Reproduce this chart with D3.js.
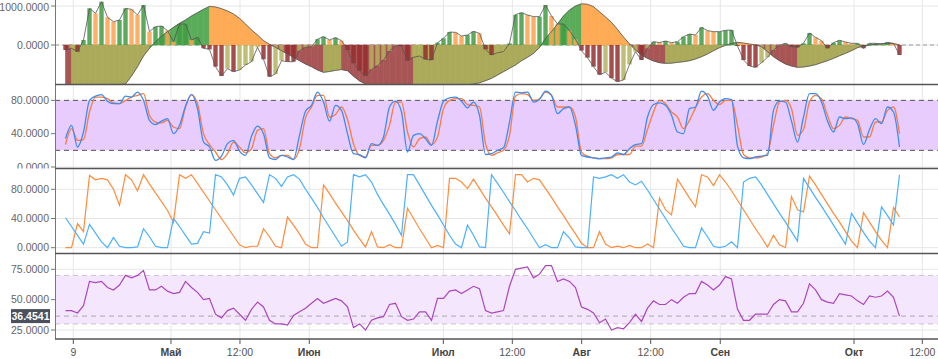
<!DOCTYPE html>
<html><head><meta charset="utf-8">
<script src="https://cdn.jsdelivr.net/npm/d3@7"></script>
<style>body{margin:0;background:#fff;} svg{display:block;font-family:"Liberation Sans",Arial,sans-serif;}</style>
</head><body><svg id="c" width="938" height="359"></svg>
<script>
// ---------- data ----------
const xTickPos    = [1.3, 17.58, 29.08, 40.63, 62.97, 74.47, 86.03, 97.53, 109.13, 131.42, 142.8];
const xTickLabels = ["9", "Май", "12:00", "Июн", "Июл", "12:00", "Авг", "12:00", "Сен", "Окт", "12:00"];
const xTickBold   = [false, true, false, true, true, false, true, false, true, true, false];

const macdTicks  = [0, 1000];
const stochTicks = [0, 40, 80];
const aroonTicks = [0, 40, 80];
const rsiTicks   = [25, 50, 75];

const macdFast = [
-128,-85,-171,128,940,812,1110,710,598,641,
940,915,770,1026,342,470,487,368,85,539,
539,128,197,-85,-111,-556,-795,-607,-684,-641,
-513,-428,-60,-368,-812,-744,-402,-428,-428,-145,
-60,-43,150,214,128,188,111,-128,-470,-658,
-795,-624,-530,-385,-154,-17,-25,-402,-316,-282,
-368,-385,60,171,333,325,231,256,350,300,
-111,-256,-197,-171,43,778,829,770,727,727,
1026,744,539,539,368,145,-145,-325,-556,-761,
-700,-850,-940,-898,-500,-171,-385,-85,85,60,
103,60,85,214,282,256,453,368,342,342,
376,385,-25,-385,-539,-573,-453,-316,-128,-8,
43,-43,-60,43,308,197,111,-85,60,120,
77,43,43,-85,43,43,17,68,43,-256];

const macdSlow = [
-1050,-1060,-1050,-1045,-1040,-1035,-1030,-1025,-1020,-1010,
-1000,-795,-556,-282,-85,85,230,342,453,556,
641,744,829,915,990,975,932,872,795,684,
539,385,257,111,17,-60,-145,-231,-316,-402,
-487,-556,-640,-700,-680,-650,-630,-660,-800,-920,
-1000,-1050,-1080,-1100,-1110,-1120,-1130,-1140,-1150,-1140,
-1130,-1120,-1100,-1090,-1075,-1060,-1040,-1020,-1000,-970,
-915,-855,-770,-684,-598,-513,-402,-316,-214,-68,
171,342,539,744,898,1000,1055,1045,983,850,
720,580,400,200,30,-128,-256,-342,-410,-453,
-470,-465,-445,-428,-402,-359,-300,-231,-145,-68,
-8,40,70,50,25,5,-43,-171,-300,-402,
-487,-539,-573,-564,-539,-504,-453,-402,-342,-274,
-214,-145,-68,-26,0,17,34,43,34,9];

const stochK = [
34,50,24,42,80,85,87,79,76,76,
85,84,90,80,56,51,55,58,40,50,
73,87,70,30,24,8,13,28,32,19,
14,37,49,40,11,9,14,12,9,38,
67,74,90,78,55,74,68,40,16,15,
11,28,26,36,72,79,66,18,38,40,
34,26,55,79,83,84,79,71,78,62,
15,16,20,23,54,90,89,90,78,81,
91,86,64,70,72,50,14,12,11,10,
11,12,17,15,22,27,28,60,75,77,
74,62,42,40,70,72,91,85,68,78,
82,81,25,11,10,12,13,14,68,79,
78,55,30,60,88,88,78,55,42,60,
58,59,52,27,45,58,52,72,66,24];

const stochD = [
27,46,32,33,66,84,84,82,77,76,
80,84,86,88,62,54,53,56,48,46,
72,87,76,40,27,18,9,16,30,24,
17,22,44,46,16,11,14,14,9,22,
59,72,86,86,60,63,72,57,28,14,
12,26,26,32,50,78,78,42,24,34,
36,27,36,70,80,82,82,75,74,72,
28,14,17,20,38,85,88,87,80,82,
90,86,72,72,72,60,18,13,11,10,
10,11,15,15,15,25,25,45,66,80,
76,66,60,46,56,71,84,88,80,75,
80,80,50,15,11,11,12,16,50,78,
80,70,38,45,78,86,82,62,46,50,
60,58,56,36,36,54,54,68,72,40];

const aroonUp = [
41,29,17,5,32,20,8,0,14,2,
0,0,1,26,15,2,0,0,40,29,
17,5,6,22,20,100,97,86,72,95,
97,86,74,62,100,95,84,97,100,94,
80,68,55,41,28,15,2,8,100,97,
100,90,73,59,46,32,17,100,100,86,
72,58,45,31,17,5,0,31,17,1,
0,100,88,76,63,51,38,26,13,0,
4,0,0,22,13,1,0,0,97,95,
97,100,95,100,90,86,91,79,66,53,
40,27,15,2,0,0,27,15,2,0,
2,8,0,90,95,97,86,73,60,47,
35,22,9,95,82,69,57,44,31,18,
5,47,34,21,9,0,56,44,31,100];

const aroonDown = [
0,0,33,22,99,93,95,93,80,58,
100,93,78,100,87,75,63,51,35,100,
95,100,88,76,64,52,40,28,16,4,
0,2,2,26,15,2,0,42,31,19,
5,0,0,86,74,61,49,37,24,12,
1,22,1,0,4,0,0,54,40,26,
13,0,3,0,95,95,90,81,94,81,
68,56,44,31,19,100,100,90,95,93,
81,69,56,44,31,19,6,0,0,22,
5,0,2,0,3,0,0,5,0,68,
52,45,94,81,68,56,100,97,85,100,
90,78,65,52,39,26,14,1,17,4,
0,70,52,49,98,86,73,60,47,35,
22,9,0,48,35,22,10,0,55,42];

const rsi = [
41,41,39,45,65,64,65,60,58,62,
70,68,70,74,58,58,61,57,55,56,
65,60,56,50,51,38,35,41,43,38,
33,42,48,44,33,30,30,29,37,40,
43,47,51,47,49,51,49,44,27,30,
25,33,35,36,46,47,36,33,34,40,
40,33,51,51,57,58,55,58,61,59,
41,39,40,41,61,75,76,77,68,71,
78,78,65,67,65,60,44,42,39,31,
34,25,27,26,31,38,32,43,49,46,
46,50,47,52,55,55,65,62,58,62,
69,67,42,33,33,38,38,38,46,50,
49,40,40,47,63,58,50,48,47,55,
54,53,49,46,53,52,53,57,52,36.4541];

const stochBand = [20, 80];
const rsiBand = [30, 70];

// ---------- drawing ----------
const svg = d3.select("#c");
const L = 55, R = 938;
const n = rsi.length;
const x = d3.scaleLinear().domain([0, n - 1]).range([65.5, 899.5]);
const fmt = d3.format(".4f");

const panels = [
  {top: 0,     bottom: 84,    clipLabels: false, y: d3.scaleLinear().domain([-1000, 1154]).range([84, 0]),   ticks: macdTicks},
  {top: 84.5,  bottom: 168.5, clipLabels: true,  y: d3.scaleLinear().domain([0, 100]).range([167, 83.7]),    ticks: stochTicks},
  {top: 169,   bottom: 253.5, clipLabels: true,  y: d3.scaleLinear().domain([0, 100]).range([247.7, 174.7]), ticks: aroonTicks},
  {top: 254,   bottom: 339,   clipLabels: true,  y: d3.scaleLinear().domain([25, 75]).range([330, 269.3]),   ticks: rsiTicks}
];

const defs = svg.append("defs");
panels.forEach((p, k) => {
  defs.append("clipPath").attr("id", "clip" + k)
    .append("rect").attr("x", L).attr("y", p.top).attr("width", R - L).attr("height", p.bottom - p.top);
  defs.append("clipPath").attr("id", "clipl" + k)
    .append("rect").attr("x", 0).attr("y", p.top).attr("width", L).attr("height", p.bottom - p.top);
});

panels.forEach((p, k) => {
  const g = svg.append("g").attr("clip-path", `url(#clip${k})`);
  p.g = g;
  g.selectAll(null).data(p.ticks).join("line")
    .attr("x1", L).attr("x2", R).attr("y1", d => p.y(d)).attr("y2", d => p.y(d))
    .attr("stroke", "#e6e6e6").attr("stroke-width", 1);
  g.selectAll(null).data(xTickPos).join("line")
    .attr("x1", d => x(d)).attr("x2", d => x(d)).attr("y1", p.top).attr("y2", p.bottom)
    .attr("stroke", "#e6e6e6").attr("stroke-width", 1);
});

// ---- panel 1: MACD-like ----
{
  const p = panels[0], y = p.y, g = p.g;
  const y0 = y(0);
  g.append("line").attr("x1", L).attr("x2", R).attr("y1", y0).attr("y2", y0)
    .attr("stroke", "#999").attr("stroke-dasharray", "4,3");
  const slowColor = (v, pv) => v >= 0 ? (v >= pv ? "#5aab5a" : "#ffaa55") : (v <= pv ? "#a85555" : "#aaaa5a");
  const area = d3.area().x(d => x(d.i)).y0(y0).y1(d => y(d.v));
  for (let i = 1; i < n; i++) {
    g.append("path").datum([{i: i - 1, v: macdSlow[i - 1]}, {i: i, v: macdSlow[i]}])
      .attr("d", area).attr("fill", slowColor(macdSlow[i], macdSlow[i - 1]))
      .attr("stroke", slowColor(macdSlow[i], macdSlow[i - 1])).attr("stroke-width", 0.6);
  }
  const fastColor = (v, pv) => v >= 0 ? (v >= pv ? "#3f9c3f" : "#ffa24a") : (v <= pv ? "#962d2d" : "#b3b35c");
  g.selectAll(null).data(macdFast).join("rect")
    .attr("x", (d, i) => x(i) - 2.2).attr("width", 4.4)
    .attr("y", d => Math.min(y(d), y0)).attr("height", d => Math.abs(y(d) - y0))
    .attr("fill", (d, i) => fastColor(d, i > 0 ? macdFast[i - 1] : d)).attr("opacity", 0.85);
  const line = d3.line().x((d, i) => x(i)).y(d => y(d));
  g.append("path").datum(macdSlow).attr("d", line).attr("fill", "none").attr("stroke", "#555").attr("stroke-width", 0.8);
  g.append("path").datum(macdFast).attr("d", line).attr("fill", "none").attr("stroke", "#555").attr("stroke-width", 0.8);
}

// ---- panel 2: stochastic ----
{
  const p = panels[1], y = p.y, g = p.g;
  g.append("rect").attr("x", L).attr("width", R - L)
    .attr("y", y(stochBand[1])).attr("height", y(stochBand[0]) - y(stochBand[1]))
    .attr("fill", "#e7ccfd");
  g.selectAll(null).data(stochBand).join("line")
    .attr("x1", L).attr("x2", R).attr("y1", d => y(d)).attr("y2", d => y(d))
    .attr("stroke", "#555").attr("stroke-dasharray", "5,4");
  const line = d3.line().x((d, i) => x(i)).y(d => y(d)).curve(d3.curveMonotoneX);
  g.append("path").datum(stochD).attr("d", line).attr("fill", "none").attr("stroke", "#ff7a3d").attr("stroke-width", 1.3);
  g.append("path").datum(stochK).attr("d", line).attr("fill", "none").attr("stroke", "#3b8cf5").attr("stroke-width", 1.3);
}

// ---- panel 3: aroon ----
{
  const p = panels[2], y = p.y, g = p.g;
  const line = d3.line().x((d, i) => x(i)).y(d => y(d));
  g.append("path").datum(aroonDown).attr("d", line).attr("fill", "none").attr("stroke", "#ff8c3c").attr("stroke-width", 1.2);
  g.append("path").datum(aroonUp).attr("d", line).attr("fill", "none").attr("stroke", "#4ab0ff").attr("stroke-width", 1.2);
}

// ---- panel 4: RSI ----
{
  const p = panels[3], y = p.y, g = p.g;
  g.append("rect").attr("x", L).attr("width", R - L)
    .attr("y", y(rsiBand[1])).attr("height", y(rsiBand[0]) - y(rsiBand[1]))
    .attr("fill", "#f3e6fd");
  g.selectAll(null).data(rsiBand).join("line")
    .attr("x1", L).attr("x2", R).attr("y1", d => y(d)).attr("y2", d => y(d))
    .attr("stroke", "#c9c0d0").attr("stroke-dasharray", "5,4");
  const last = rsi[n - 1];
  g.append("line").attr("x1", L).attr("x2", R).attr("y1", y(last)).attr("y2", y(last))
    .attr("stroke", "#a8a8b0").attr("stroke-dasharray", "5,4");
  const line = d3.line().x((d, i) => x(i)).y(d => y(d));
  g.append("path").datum(rsi).attr("d", line).attr("fill", "none").attr("stroke", "#ab47bc").attr("stroke-width", 1.2);
}

// ---- axes ----
panels.forEach((p, k) => {
  const ga = svg.append("g");
  if (p.clipLabels) ga.attr("clip-path", `url(#clipl${k})`);
  ga.selectAll(null).data(p.ticks).join("line")
    .attr("x1", 51).attr("x2", L).attr("y1", d => p.y(d)).attr("y2", d => p.y(d)).attr("stroke", "#777");
  ga.selectAll(null).data(p.ticks).join("text")
    .attr("x", 49).attr("y", d => Math.max(p.y(d), 7)).attr("dy", "0.35em").attr("text-anchor", "end")
    .attr("font-size", 10.5).attr("fill", "#666").text(d => fmt(d));
  svg.append("line").attr("x1", L + 0.5).attr("x2", L + 0.5).attr("y1", p.top).attr("y2", p.bottom).attr("stroke", "#777");
});
[84.5, 168.5, 253.5, 339].forEach(v => {
  svg.append("line").attr("x1", L).attr("x2", R).attr("y1", v).attr("y2", v).attr("stroke", "#555").attr("stroke-width", 1.4);
});
{
  const y = panels[3].y, last = rsi[n - 1];
  svg.append("rect").attr("x", 11).attr("y", y(last) - 7).attr("width", 39).attr("height", 14).attr("fill", "#4a505c");
  svg.append("text").attr("x", 30.5).attr("y", y(last)).attr("dy", "0.35em").attr("text-anchor", "middle")
    .attr("font-size", 10.5).attr("font-weight", "bold").attr("fill", "#fff").text(fmt(last));
}
svg.selectAll(null).data(xTickPos).join("line")
  .attr("x1", d => x(d)).attr("x2", d => x(d)).attr("y1", 339).attr("y2", 344).attr("stroke", "#555");
svg.selectAll(null).data(xTickPos).join("text")
  .attr("x", d => x(d)).attr("y", 352).attr("dy", "0.35em").attr("text-anchor", "middle")
  .attr("font-size", 10.5).attr("font-weight", (d, i) => xTickBold[i] ? "bold" : "normal")
  .attr("fill", (d, i) => xTickBold[i] ? "#444" : "#555").text((d, i) => xTickLabels[i]);
</script></body></html>
